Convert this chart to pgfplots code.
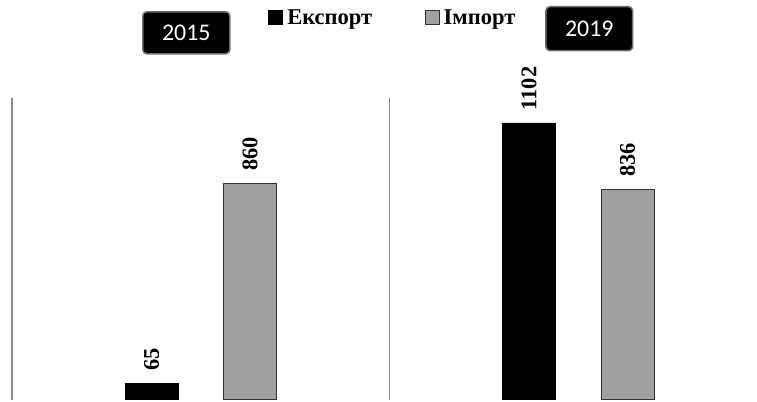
\documentclass[border=0pt]{standalone}
\usepackage{pgfplots}
\pgfplotsset{compat=1.18}
\usepackage{fontspec}
\setmainfont{Liberation Serif}
\newfontfamily\boxfont{Carlito}
\definecolor{impgray}{HTML}{A0A0A0}
\definecolor{sepgray}{HTML}{8C8C8C}
\definecolor{boxborder}{HTML}{6E6E6E}
\begin{document}
\begin{tikzpicture}[x=1bp,y=1bp]
\useasboundingbox (0,0) rectangle (757,401);
\begin{axis}[
  at={(12bp,1.5bp)}, anchor=south west,
  scale only axis, width=745bp, height=301.2bp,
  xmin=-0.5, xmax=1.4735, ymin=0, ymax=1200,
  axis lines=none, clip=false,
  ybar=45.5bp, bar width=53bp,
  nodes near coords={\pgfmathprintnumber[assume math mode=true,1000 sep={},fixed,precision=0]{\pgfplotspointmeta}},
  every node near coord/.append style={rotate=90, anchor=west, font=\fontsize{22.5}{26}\selectfont\bfseries, inner sep=0pt, inner xsep=12.5bp, text=black},
  legend columns=2,
  legend cell align=left,
  legend style={draw=none, fill=none, inner sep=0pt, outer sep=0pt,
    at={(0.344,1.2932)}, anchor=north west,
    font=\fontsize{22.6}{26}\selectfont\bfseries,
    nodes={inner sep=0pt, anchor=base west},
    /tikz/every odd column/.append style={column sep=4bp},
    /tikz/every even column/.append style={column sep=52.5bp}},
  legend image code/.code={\draw[#1, line width=0.8bp] (0.4bp,0.3bp) rectangle (14.6bp,14.3bp);},
]
\addplot[fill=black, draw=black] coordinates {(0,65) (1,1102)};
\addlegendentry{Експорт}
\addplot[fill=impgray, draw=black!80] coordinates {(0,860) (1,836)};
\addlegendentry{Імпорт}
\draw[sepgray, line width=1.4bp] (axis cs:-0.5,0) -- (axis cs:-0.5,1200);
\draw[sepgray, line width=1.4bp] (axis cs:0.5,0) -- (axis cs:0.5,1200);
\end{axis}
\node[fill=black, draw=boxborder, line width=1.5bp, rounded corners=4bp,
  minimum width=87bp, minimum height=42bp, inner sep=0pt, text=white,
  font=\boxfont\fontsize{24}{28}\selectfont] at (186.3,368.2) {2015};
\node[fill=black, draw=boxborder, line width=1.5bp, rounded corners=4bp,
  minimum width=86.7bp, minimum height=44bp, inner sep=0pt, text=white,
  font=\boxfont\fontsize{24}{28}\selectfont] at (589.3,372.3) {2019};
\end{tikzpicture}
\end{document}
